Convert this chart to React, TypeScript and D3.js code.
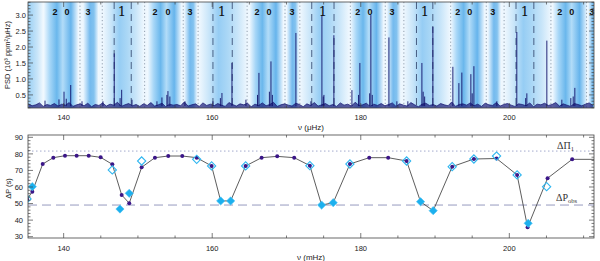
import * as d3 from 'd3';

// ---- top panel: power spectrum ----
const psdStart = 135.25;
const psdStep = 0.5;
const psdNoise = [
  0.22, 0.16, 0.19, 0.25, 0.14, 0.2, 0.17, 0.23, 0.15, 0.21,
  0.18, 0.26, 0.14, 0.19, 0.22, 0.16, 0.24, 0.13, 0.2, 0.17,
  0.25, 0.15, 0.21, 0.18, 0.27, 0.14, 0.19, 0.23, 0.16, 0.2,
  0.14, 0.22, 0.17, 0.26, 0.15, 0.19, 0.24, 0.13, 0.21, 0.18,
  0.2, 0.16, 0.28, 0.15, 0.19, 0.22, 0.14, 0.25, 0.17, 0.21,
  0.16, 0.23, 0.18, 0.14, 0.26, 0.2, 0.15, 0.22, 0.19, 0.24,
  0.13, 0.21, 0.17, 0.25, 0.16, 0.2, 0.27, 0.14, 0.19, 0.22,
  0.18, 0.15, 0.24, 0.2, 0.13, 0.22, 0.17, 0.26, 0.15, 0.19,
  0.23, 0.16, 0.2, 0.14, 0.25, 0.18, 0.21, 0.15, 0.27, 0.17,
  0.19, 0.24, 0.14, 0.21, 0.17, 0.23, 0.16, 0.2, 0.25, 0.14,
  0.22, 0.18, 0.15, 0.26, 0.19, 0.13, 0.21, 0.24, 0.17, 0.2,
  0.15, 0.23, 0.19, 0.16, 0.28, 0.14, 0.2, 0.22, 0.18, 0.25,
  0.16, 0.21, 0.14, 0.24, 0.19, 0.17, 0.26, 0.15, 0.2, 0.23,
  0.18, 0.14, 0.22, 0.2, 0.16, 0.25, 0.13, 0.21, 0.19, 0.24,
  0.17, 0.2, 0.26, 0.15, 0.22, 0.18, 0.14, 0.23, 0.2, 0.16,
  0.21, 0.25, 0.17,
];

// [frequency (μHz), PSD]
const psdPeaks: [number, number][] = [
  [137.49, 0.32], [139.37, 0.36], [140.05, 0.6], [140.35, 0.38], [140.95, 0.81],
  [142.47, 0.3], [145.29, 0.3], [146.81, 1.8], [147.6, 0.4], [147.81, 0.66],
  [149.2, 0.35], [152.56, 0.3], [153.23, 0.42], [153.9, 0.5], [154.04, 0.62],
  [154.3, 0.45], [156.33, 0.3], [160.1, 0.3], [161.1, 0.4], [161.31, 0.56],
  [162.66, 1.5], [164.54, 0.35], [166.1, 0.5], [166.29, 1.19], [167.7, 0.6],
  [167.91, 1.55], [168.1, 0.5], [171.27, 2.44], [173.29, 0.3], [174.77, 3.0],
  [174.95, 0.45], [175.04, 0.5], [176.38, 2.37], [178.81, 0.65], [179.7, 0.5],
  [179.88, 1.5], [181.2, 0.55], [181.36, 3.0], [181.55, 0.5], [183.79, 2.3],
  [184.86, 0.3], [186.34, 0.3], [188.23, 1.5], [188.4, 0.6], [188.6, 0.45],
  [189.71, 2.63], [192.4, 1.38], [193.21, 0.87], [193.61, 1.2], [194.82, 1.15],
  [195.0, 0.55], [195.23, 1.4], [198.32, 0.3], [201.01, 2.47], [202.2, 0.4],
  [202.36, 0.55], [205.05, 2.2], [207.07, 0.35], [208.28, 0.4], [208.6, 0.45],
  [208.82, 0.72],
];

// shaded mode regions [start, end] in μHz
const bands20: [number, number][] = [
  [137.3, 142.0], [151.3, 155.9], [165.0, 169.6], [178.6, 183.1], [192.1, 196.7], [205.8, 210.5],
];
const bands3: [number, number][] = [
  [142.6, 144.7], [156.2, 158.0], [170.0, 171.7], [183.5, 185.4], [197.1, 198.9], [210.6, 212.0],
];
const bands1: [number, number][] = [
  [133.5, 137.2], [145.3, 150.8], [158.3, 164.7], [171.9, 178.4], [185.8, 192.0], [199.4, 205.6],
];
const dottedLines = [
  142.2, 145.2, 150.9, 156.1, 158.1, 164.7, 169.8, 171.8, 178.6, 183.3, 185.8, 192.1, 196.9,
  199.3, 205.6, 210.4,
];
const dashedLines = [146.8, 149.1, 160.1, 162.7, 173.4, 176.4, 187.5, 189.7, 200.9, 203.3];

const labelL2 = [138.83, 152.29, 166.02, 179.61, 193.07, 206.8];
const labelL0 = [140.45, 154.04, 167.64, 181.23, 194.69, 208.42];
const labelL3 = [143.28, 157.0, 170.73, 184.19, 197.78, 211.1];
const labelL1 = [147.85, 161.31, 174.9, 188.63, 202.09];

const psdTicks = [0.5, 1.0, 1.5, 2.0, 2.5, 3.0];

// ---- bottom panel: period spacings ----
const modelNu = [
  135.07, 135.78, 137.18, 138.61, 140.18, 141.75, 143.37, 144.98, 146.55, 147.81, 148.83,
  150.5, 152.29, 154.08, 155.97, 157.91, 159.92, 161.14, 162.48, 164.5, 166.65, 168.75,
  171.04, 173.15, 174.73, 176.29, 178.54, 181.14, 183.69, 186.17, 188.05, 189.75, 192.31,
  195.23, 198.28, 201.05, 202.46, 205.15, 208.46, 212.19,
];
const modelDP = [
  52.5, 57.2, 73.9, 77.7, 78.9, 78.9, 78.9, 77.9, 73.7, 55.2, 50.2,
  71.9, 77.7, 78.7, 78.7, 77.7, 72.7, 51.6, 51.6, 72.7, 77.7, 78.5,
  77.7, 72.9, 49.1, 50.5, 73.9, 77.7, 77.7, 75.7, 51.1, 45.7, 72.3,
  76.9, 77.2, 67.3, 35.7, 65.3, 76.7, 76.7,
];
const obsFilledNu = [135.78, 147.58, 148.83, 161.14, 162.48, 174.73, 176.29, 188.05, 189.75, 202.54];
const obsFilledDP = [60.2, 46.7, 56.2, 51.6, 51.6, 49.1, 50.5, 51.1, 45.7, 38.1];
const obsOpenNu = [
  135.07, 146.55, 150.5, 157.91, 159.92, 164.5, 173.15, 178.54, 186.17, 192.31, 195.23,
  198.28, 201.05, 205.02,
];
const obsOpenDP = [52.8, 70.3, 75.7, 76.7, 72.7, 72.7, 72.9, 73.9, 75.7, 72.3, 76.9, 78.7, 67.3, 60.2];

const dPi1 = 81.7;
const dPobs = 49.1;
const dpTicks = [30, 40, 50, 60, 70, 80, 90];
const nuTicks = [140, 160, 180, 200];

const L = 28;
const R = 594;
const T1 = 2;
const B1 = 108;
const T2 = 135;
const B2 = 238;

const axisColor = '#444';
const font = 'Liberation Sans, Arial, sans-serif';

export default function App() {
  const x = d3.scaleLinear().domain([135.2, 211.4]).range([L, R]);
  const yTop = d3.scaleLinear().domain([0.09, 3.41]).range([B1, T1]);
  const yBot = d3.scaleLinear().domain([29.2, 91.4]).range([B2, T2]);

  const noisePts: [number, number][] = psdNoise.map((v, i) => [psdStart + i * psdStep, v]);
  const noiseArea = d3
    .area<[number, number]>()
    .x((d) => x(d[0]))
    .y0(B1)
    .y1((d) => yTop(d[1]))(noisePts) ?? '';
  const noiseLine = d3
    .line<[number, number]>()
    .x((d) => x(d[0]))
    .y((d) => yTop(d[1]))(noisePts) ?? '';

  const model = modelNu.map((n, i) => [n, modelDP[i]] as [number, number]);
  const modelPath = d3
    .line<[number, number]>()
    .x((d) => x(d[0]))
    .y((d) => yBot(d[1]))(model) ?? '';
  const diamond = d3.symbol(d3.symbolSquare, 34)() ?? '';

  const xMinor = d3.range(135, 212, 5).filter((v) => v > 135.2 && v < 211.4);
  const psdMinor = d3.range(0.1, 3.41, 0.1);
  const dpMinor = d3.range(30, 91.4, 2);

  const frameTicks = (top: number, bottom: number) => (
    <g stroke={axisColor} strokeWidth={0.7}>
      {xMinor.map((v) => {
        const major = nuTicks.includes(v);
        const len = major ? 5 : 2.5;
        return (
          <g key={v}>
            <line x1={x(v)} x2={x(v)} y1={bottom} y2={bottom - len} />
            <line x1={x(v)} x2={x(v)} y1={top} y2={top + len} />
          </g>
        );
      })}
    </g>
  );

  const bandRects = (bands: [number, number][], grad: string, y0: number, y1: number) =>
    bands.map(([a, b], i) => (
      <rect key={grad + i} x={x(a)} y={y0} width={x(b) - x(a)} height={y1 - y0} fill={`url(#${grad})`} />
    ));

  return (
    <svg
      width={600}
      height={261}
      style={{ position: 'absolute', left: 0, top: 0, background: '#fff' }}
      fontFamily={font}
    >
      <defs>
        <clipPath id="clipTop">
          <rect x={L} y={T1} width={R - L} height={B1 - T1} />
        </clipPath>
        <clipPath id="clipBot">
          <rect x={L} y={T2} width={R - L} height={B2 - T2} />
        </clipPath>
        <linearGradient id="g20" x1="0" x2="1" y1="0" y2="0">
          <stop offset="0" stopColor="#f2f9ff" />
          <stop offset="0.18" stopColor="#a6d6f7" />
          <stop offset="0.38" stopColor="#6ab7ec" />
          <stop offset="0.55" stopColor="#b2dcf8" />
          <stop offset="0.78" stopColor="#66b4ec" />
          <stop offset="1" stopColor="#f2f9ff" />
        </linearGradient>
        <linearGradient id="g3" x1="0" x2="1" y1="0" y2="0">
          <stop offset="0" stopColor="#f2f9ff" />
          <stop offset="0.45" stopColor="#74baee" />
          <stop offset="0.7" stopColor="#82c2ef" />
          <stop offset="1" stopColor="#f2f9ff" />
        </linearGradient>
        <linearGradient id="g1" x1="0" x2="1" y1="0" y2="0">
          <stop offset="0" stopColor="#eef7fe" />
          <stop offset="0.2" stopColor="#c8e5f9" />
          <stop offset="0.4" stopColor="#96cdf4" />
          <stop offset="0.6" stopColor="#acd8f6" />
          <stop offset="0.8" stopColor="#c8e5f9" />
          <stop offset="1" stopColor="#eef7fe" />
        </linearGradient>
      </defs>

      {/* ---------- top panel ---------- */}
      <g clipPath="url(#clipTop)">
        <rect x={L} y={T1} width={R - L} height={B1 - T1} fill="#eef7fe" />
        {bandRects(bands20, 'g20', T1, B1)}
        {bandRects(bands3, 'g3', T1, B1)}
        {bandRects(bands1, 'g1', T1, B1)}
        {dottedLines.map((v) => (
          <line key={'dt' + v} x1={x(v)} x2={x(v)} y1={T1} y2={B1} stroke="#6a7a8c" strokeWidth={0.7} strokeDasharray="1.2,2.4" />
        ))}
        {dashedLines.map((v) => (
          <line key={'ds' + v} x1={x(v)} x2={x(v)} y1={T1} y2={B1} stroke="#2c3f66" strokeWidth={0.8} strokeDasharray="7,5" />
        ))}
        <path d={noiseArea} fill="#1a1a78" opacity={0.7} />
        <path d={noiseLine} fill="none" stroke="#12126e" strokeWidth={0.7} />
        {psdPeaks.map(([f, h]) => (
          <line key={'p' + f} x1={x(f)} x2={x(f)} y1={yTop(0.15)} y2={yTop(h)} stroke="#10106a" strokeWidth={0.9} />
        ))}
      </g>
      <g fill="#111" textAnchor="middle" fontWeight="bold" fontSize={9}>
        {labelL2.map((v) => (
          <text key={'l2' + v} x={x(v)} y={14.5}>2</text>
        ))}
        {labelL0.map((v) => (
          <text key={'l0' + v} x={x(v)} y={14.5}>0</text>
        ))}
        {labelL3.map((v) => (
          <text key={'l3' + v} x={x(v)} y={14.5}>3</text>
        ))}
        {labelL1.map((v) => (
          <text key={'l1' + v} x={x(v)} y={16} fontSize={13} fontWeight="normal" fontFamily="DejaVu Serif, serif">1</text>
        ))}
      </g>
      <rect x={L} y={T1} width={R - L} height={B1 - T1} fill="none" stroke={axisColor} strokeWidth={0.8} />
      {frameTicks(T1, B1)}
      <g stroke={axisColor} strokeWidth={0.7}>
        {psdMinor.map((v) => {
          const major = Math.abs(v * 2 - Math.round(v * 2)) < 1e-6;
          const len = major ? 5 : 2.5;
          return (
            <g key={'pm' + v}>
              <line x1={L} x2={L + len} y1={yTop(v)} y2={yTop(v)} />
              <line x1={R} x2={R - len} y1={yTop(v)} y2={yTop(v)} />
            </g>
          );
        })}
      </g>
      <g fontSize={7.5} fill="#222" textAnchor="end">
        {psdTicks.map((v) => (
          <text key={'pt' + v} x={L - 2} y={yTop(v) + 2.7}>{v.toFixed(1)}</text>
        ))}
      </g>
      <g fontSize={7.5} fill="#222" textAnchor="middle">
        {nuTicks.map((v) => (
          <text key={'xt1' + v} x={x(v)} y={119.5}>{v}</text>
        ))}
      </g>
      <text x={(L + R) / 2} y={130} fontSize={8} fill="#222" textAnchor="middle">ν (μHz)</text>
      <text
        transform={`translate(10,${(T1 + B1) / 2}) rotate(-90)`}
        fontSize={7.5}
        fill="#222"
        textAnchor="middle"
      >
        PSD (10³ ppm²/μHz)
      </text>

      {/* ---------- bottom panel ---------- */}
      <g clipPath="url(#clipBot)">
        <line x1={L} x2={R} y1={yBot(dPi1)} y2={yBot(dPi1)} stroke="#8a94c0" strokeWidth={0.8} strokeDasharray="1.5,2.5" />
        <line x1={L} x2={R} y1={yBot(dPobs)} y2={yBot(dPobs)} stroke="#8a8fb8" strokeWidth={0.9} strokeDasharray="9,5" />
        <path d={modelPath} fill="none" stroke="#333" strokeWidth={0.8} />
        {model.map(([n, v], i) => (
          <circle key={'m' + i} cx={x(n)} cy={yBot(v)} r={2} fill="#3b1688" />
        ))}
        {obsOpenNu.map((n, i) => (
          <path
            key={'o' + i}
            d={diamond}
            transform={`translate(${x(n)},${yBot(obsOpenDP[i])}) rotate(45)`}
            fill="none"
            stroke="#2fb6f0"
            strokeWidth={1.1}
          />
        ))}
        {obsFilledNu.map((n, i) => (
          <path
            key={'f' + i}
            d={diamond}
            transform={`translate(${x(n)},${yBot(obsFilledDP[i])}) rotate(45)`}
            fill="#1cb0ee"
            stroke="#4cc2f2"
            strokeWidth={0.6}
          />
        ))}
      </g>
      <rect x={L} y={T2} width={R - L} height={B2 - T2} fill="none" stroke={axisColor} strokeWidth={0.8} />
      {frameTicks(T2, B2)}
      <g stroke={axisColor} strokeWidth={0.7}>
        {dpMinor.map((v) => {
          const major = v % 10 === 0;
          const len = major ? 5 : 2.5;
          return (
            <g key={'dm' + v}>
              <line x1={L} x2={L + len} y1={yBot(v)} y2={yBot(v)} />
              <line x1={R} x2={R - len} y1={yBot(v)} y2={yBot(v)} />
            </g>
          );
        })}
      </g>
      <g fontSize={7.5} fill="#222" textAnchor="end">
        {dpTicks.map((v) => (
          <text key={'dt' + v} x={L - 5} y={yBot(v) + 2.7}>{v}</text>
        ))}
      </g>
      <g fontSize={7.5} fill="#222" textAnchor="middle">
        {nuTicks.map((v) => (
          <text key={'xt2' + v} x={x(v)} y={250.5}>{v}</text>
        ))}
      </g>
      <text x={(L + R) / 2} y={260} fontSize={8} fill="#222" textAnchor="middle">ν (mHz)</text>
      <text
        transform={`translate(11,${(T2 + B2) / 2 + 2}) rotate(-90)`}
        fontSize={7.5}
        fill="#222"
        textAnchor="middle"
      >
        ΔP (s)
      </text>
      <g fontFamily="Liberation Serif, DejaVu Serif, serif" fill="#333" fontSize={10}>
        <text x={557} y={149}>
          ΔΠ<tspan fontSize={6.5} dy={2}>1</tspan>
        </text>
        <text x={556} y={200.5}>
          ΔP<tspan fontSize={6.5} dy={2}>obs</tspan>
        </text>
      </g>
    </svg>
  );
}
